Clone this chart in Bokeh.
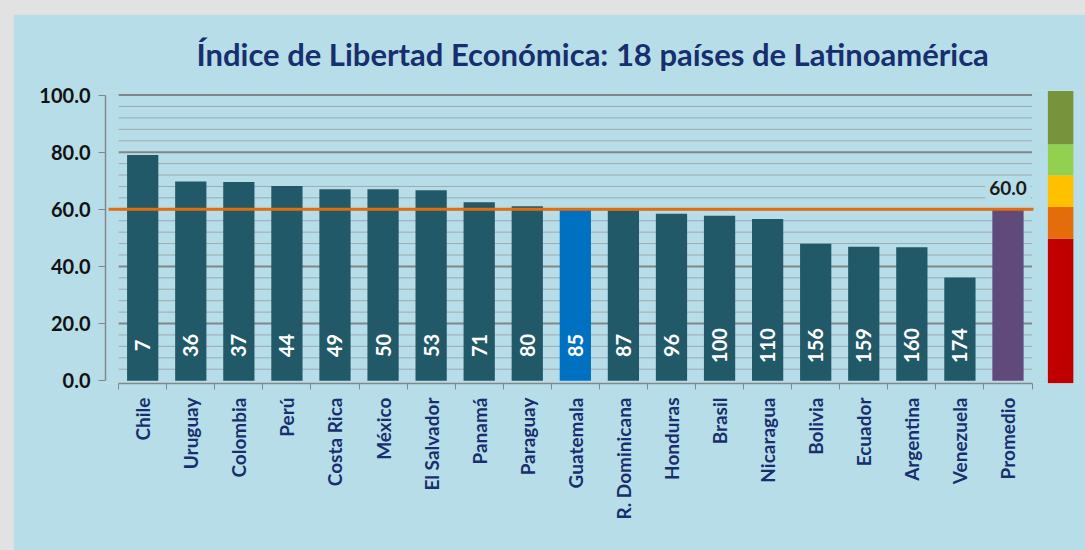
from bokeh.plotting import figure
from bokeh.models import (Range1d, FixedTicker, PrintfTickFormatter, Label, ColumnDataSource)
from bokeh.layouts import column
from bokeh.embed import file_html
from bokeh.resources import INLINE
from bokeh.core.properties import value

# ---------------- data ----------------
paises = ["Chile", "Uruguay", "Colombia", "Perú", "Costa Rica", "México", "El Salvador",
          "Panamá", "Paraguay", "Guatemala", "R. Dominicana", "Honduras", "Brasil",
          "Nicaragua", "Bolivia", "Ecuador", "Argentina", "Venezuela", "Promedio"]
indice = [79.0, 69.7, 69.6, 68.2, 67.0, 67.0, 66.7, 62.5, 61.1, 60.0, 59.7, 58.4,
          57.7, 56.6, 47.9, 46.9, 46.7, 36.1, 60.0]
ranking = ["7", "36", "37", "44", "49", "50", "53", "71", "80", "85", "87", "96",
           "100", "110", "156", "159", "160", "174", ""]
promedio = 60.0
y_ticks = [0, 20, 40, 60, 80, 100]
# colour scale on the right (lower/upper limits of each band)
escala_bottom = [-0.9, 49.7, 60.8, 71.9, 82.8]
escala_top = [49.7, 60.8, 71.9, 82.8, 101.4]
escala_color = ["#c00000", "#e46c0a", "#ffc000", "#92d050", "#77933c"]

# ---------------- styles ----------------
BG = "#b7dde8"
TEAL = "#215968"
BLUE = "#0070c0"
PURPLE = "#604a7b"
NAVY = "#172f6e"
FONT = "Lato"

n = len(paises)
xs = list(range(n))
colors = []
for name in paises:
    if name == "Guatemala":
        colors.append(BLUE)
    elif name == "Promedio":
        colors.append(PURPLE)
    else:
        colors.append(TEAL)

p = figure(width=1072, height=536, output_backend="svg", toolbar_location=None,
           x_range=Range1d(-0.774, 19.467), y_range=Range1d(-1.0, 101.6),
           min_border_left=92, min_border_right=7, min_border_top=76, min_border_bottom=167,
           background_fill_color=BG, border_fill_color=BG, outline_line_color=None,
           title="Índice de Libertad Económica: 18 países de Latinoamérica")
p.margin = (14, 0, 0, 13)

p.title.text_font = FONT
p.title.text_font_size = "31px"
p.title.text_font_style = "bold"
p.title.text_color = NAVY
p.title.align = "left"
p.title.offset = 91
p.title.standoff = 36

p.xgrid.visible = False
p.ygrid.visible = False

# manual grid lines (only over the category area)
minor_y = [v for v in range(4, 101, 4) if v % 20 != 0]
major_y = [v for v in y_ticks if v > 0]
p.segment(x0=[-0.5] * len(minor_y), x1=[18.5] * len(minor_y), y0=minor_y, y1=minor_y,
          line_color="#9eaaae", line_width=1)
p.segment(x0=[-0.5] * len(major_y), x1=[18.5] * len(major_y), y0=major_y, y1=major_y,
          line_color="#80878a", line_width=2)

src = ColumnDataSource(dict(x=xs, top=indice, color=colors, rank=ranking,
                            ly=[12.3] * n))
p.vbar(x="x", top="top", width=0.65, fill_color="color", line_color=None, source=src)

p.text(x="x", y="ly", text="rank", source=src, angle=1.5708,
       text_align="center", text_baseline="middle", text_color="white",
       text_font=value(FONT), text_font_style="bold", text_font_size="20px")

# average line
p.segment(x0=[-0.71], x1=[18.53], y0=[promedio], y1=[promedio],
          line_color="#e46c0a", line_width=3)

# colour scale
p.quad(left=[18.83] * len(escala_color), right=[19.36] * len(escala_color),
       bottom=escala_bottom, top=escala_top, fill_color=escala_color, line_color=None)

lbl = Label(x=n - 1, y=promedio, y_offset=21, text=f"{promedio:.1f}",
            text_align="center", text_baseline="middle", text_font=FONT,
            text_font_style="bold", text_font_size="19px", text_color="#1a1a1a",
            background_fill_color=BG, padding=4)
p.add_layout(lbl)

# axes
xa = p.xaxis[0]
xa.ticker = FixedTicker(ticks=xs, minor_ticks=[i - 0.5 for i in range(n + 1)])
xa.major_label_overrides = {i: paises[i] for i in xs}
xa.bounds = (-0.5, 18.5)
xa.axis_line_color = "#868686"
xa.axis_line_width = 1.5
xa.major_tick_line_color = None
xa.minor_tick_line_color = "#868686"
xa.minor_tick_out = 6
xa.minor_tick_in = 0
xa.major_label_orientation = 1.5708
xa.major_label_standoff = 8
xa.major_label_text_font = FONT
xa.major_label_text_font_style = "bold"
xa.major_label_text_font_size = "19px"
xa.major_label_text_color = NAVY

ya = p.yaxis[0]
ya.ticker = FixedTicker(ticks=y_ticks, minor_ticks=[])
ya.formatter = PrintfTickFormatter(format="%.1f")
ya.bounds = (0, 100)
ya.axis_line_color = "#868686"
ya.axis_line_width = 1.5
ya.major_tick_line_color = "#868686"
ya.major_tick_out = 7
ya.major_tick_in = 0
ya.minor_tick_line_color = None
ya.major_label_standoff = 8
ya.major_label_text_font = FONT
ya.major_label_text_font_style = "bold"
ya.major_label_text_font_size = "20px"
ya.major_label_text_color = "#111111"

layout = column(p, width=1085, height=550,
                styles={"background-color": "#e2e2e2"})

open("out.html", "w").write(file_html(layout, INLINE))
